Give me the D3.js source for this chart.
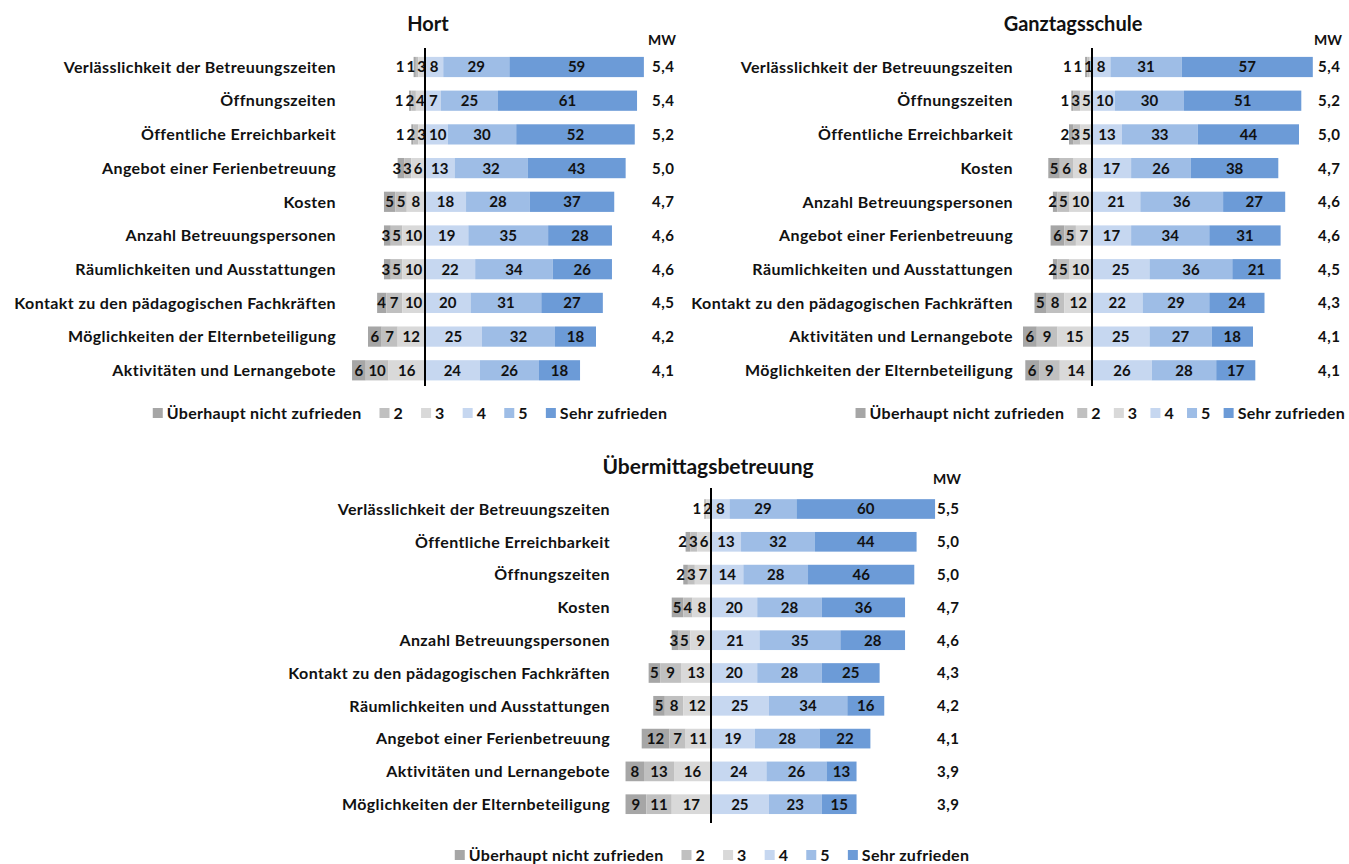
<!DOCTYPE html>
<html lang="de">
<head>
<meta charset="utf-8">
<title>Zufriedenheit Betreuung</title>
<script src="https://d3js.org/d3.v7.min.js"></script>
<style>
  body { margin: 0; background: #fff; }
  text { font-family: Lato, "Open Sans", sans-serif; font-weight: bold; fill: #111; }
</style>
</head>
<body>
<script>
// Antwortstufen (1 = überhaupt nicht zufrieden ... 6 = sehr zufrieden)
var stufen = ["Überhaupt nicht zufrieden", "2", "3", "4", "5", "Sehr zufrieden"];
var farben = ["#a6a6a6", "#c0c0c0", "#d9d9d9", "#c6d7f0", "#9ebde6", "#6c9bd7"];

// Hort
var hortKat = ["Verlässlichkeit der Betreuungszeiten", "Öffnungszeiten", "Öffentliche Erreichbarkeit",
  "Angebot einer Ferienbetreuung", "Kosten", "Anzahl Betreuungspersonen", "Räumlichkeiten und Ausstattungen",
  "Kontakt zu den pädagogischen Fachkräften", "Möglichkeiten der Elternbeteiligung", "Aktivitäten und Lernangebote"];
var hortWerte = [[1,1,3,8,29,59],[1,2,4,7,25,61],[1,2,3,10,30,52],[3,3,6,13,32,43],[5,5,8,18,28,37],
  [3,5,10,19,35,28],[3,5,10,22,34,26],[4,7,10,20,31,27],[6,7,12,25,32,18],[6,10,16,24,26,18]];
var hortMW = ["5,4","5,4","5,2","5,0","4,7","4,6","4,6","4,5","4,2","4,1"];

// Ganztagsschule
var gtsKat = ["Verlässlichkeit der Betreuungszeiten", "Öffnungszeiten", "Öffentliche Erreichbarkeit", "Kosten",
  "Anzahl Betreuungspersonen", "Angebot einer Ferienbetreuung", "Räumlichkeiten und Ausstattungen",
  "Kontakt zu den pädagogischen Fachkräften", "Aktivitäten und Lernangebote", "Möglichkeiten der Elternbeteiligung"];
var gtsWerte = [[1,1,1,8,31,57],[1,3,5,10,30,51],[2,3,5,13,33,44],[5,6,8,17,26,38],[2,5,10,21,36,27],
  [6,5,7,17,34,31],[2,5,10,25,36,21],[5,8,12,22,29,24],[6,9,15,25,27,18],[6,9,14,26,28,17]];
var gtsMW = ["5,4","5,2","5,0","4,7","4,6","4,6","4,5","4,3","4,1","4,1"];

// Übermittagsbetreuung
var uebKat = ["Verlässlichkeit der Betreuungszeiten", "Öffentliche Erreichbarkeit", "Öffnungszeiten", "Kosten",
  "Anzahl Betreuungspersonen", "Kontakt zu den pädagogischen Fachkräften", "Räumlichkeiten und Ausstattungen",
  "Angebot einer Ferienbetreuung", "Aktivitäten und Lernangebote", "Möglichkeiten der Elternbeteiligung"];
var uebWerte = [[0,1,2,8,29,60],[2,3,6,13,32,44],[2,3,7,14,28,46],[5,4,8,20,28,36],[3,5,9,21,35,28],
  [5,9,13,20,28,25],[5,8,12,25,34,16],[12,7,11,19,28,22],[8,13,16,24,26,13],[9,11,17,25,23,15]];
var uebMW = ["5,5","5,0","5,0","4,7","4,6","4,3","4,2","4,1","3,9","3,9"];

var svg = d3.select("body").append("svg")
  .attr("width", 1349)
  .attr("height", 864);

function zeichne(p) {
  var g = svg.append("g");
  var x = d3.scaleLinear().domain([0, 100]).range([p.achse, p.achse + 100 * p.k]);
  var y = d3.scaleBand().domain(p.kat)
    .range([p.y0 - p.step / 2, p.y0 + p.step * (p.kat.length - 0.5)])
    .paddingInner(0.4).paddingOuter(0.2);

  // Segmente: 1-3 links von der Achse, 4-6 rechts
  p.kat.forEach(function(k, i) {
    var w = p.werte[i];
    var segs = [];
    var pos = -(w[0] + w[1] + w[2]);
    w.forEach(function(v, j) {
      segs.push({ von: pos, bis: pos + v, v: v, j: j });
      pos += v;
    });
    var zeile = g.append("g");
    zeile.selectAll("rect").data(segs).enter().append("rect")
      .attr("x", function(d) { return x(d.von); })
      .attr("width", function(d) { return x(d.bis) - x(d.von); })
      .attr("y", y(k))
      .attr("height", y.bandwidth())
      .attr("fill", function(d) { return farben[d.j]; });
    var labels = zeile.selectAll("text.wert").data(segs.filter(function(d) { return d.v > 0; })).enter().append("text")
      .attr("class", "wert")
      .attr("x", function(d) { return (x(d.von) + x(d.bis)) / 2; })
      .attr("y", y(k) + y.bandwidth() / 2)
      .attr("dy", "0.36em")
      .attr("text-anchor", "middle")
      .style("font-size", "15px")
      .text(function(d) { return d.v; });
    // kleine Segmente: Beschriftungen auseinanderschieben
    var links = [], rechts = [];
    labels.each(function(d) {
      var o = { el: this, c: (x(d.von) + x(d.bis)) / 2, b: this.getComputedTextLength() };
      if (d.j < 3) links.push(o); else rechts.push(o);
    });
    var grenze = p.achse + 3;
    links.reverse().forEach(function(o) {
      if (o.c + o.b / 2 > grenze - 2) o.c = grenze - 2 - o.b / 2;
      grenze = o.c - o.b / 2;
      d3.select(o.el).attr("x", o.c);
    });
    grenze = p.achse + 2;
    rechts.forEach(function(o) {
      if (o.c - o.b / 2 < grenze + 2) o.c = grenze + 2 + o.b / 2;
      grenze = o.c + o.b / 2;
      d3.select(o.el).attr("x", o.c);
    });
    // Kategorie
    g.append("text")
      .attr("x", p.labelX)
      .attr("y", y(k) + y.bandwidth() / 2)
      .attr("dy", "0.36em")
      .attr("text-anchor", "end")
      .style("font-size", "16px")
      .style("letter-spacing", "0.4px")
      .text(k);
    // Mittelwert
    g.append("text")
      .attr("x", p.mwX)
      .attr("y", y(k) + y.bandwidth() / 2)
      .attr("dy", "0.36em")
      .style("font-size", "15px")
      .style("letter-spacing", "0.5px")
      .text(p.mw[i]);
  });

  // Achse
  g.append("line")
    .attr("x1", p.achse).attr("x2", p.achse)
    .attr("y1", p.axTop).attr("y2", p.axBot)
    .attr("stroke", "#000").attr("stroke-width", 2);

  g.append("text").attr("x", p.titelX).attr("y", p.titelY)
    .attr("text-anchor", "middle").style("font-size", p.titelSize + "px").text(p.titel);
  g.append("text").attr("x", p.mwX - 4).attr("y", p.mwKopfY)
    .style("font-size", "14px").text("MW");

  // Legende
  var leg = g.append("g");
  var cx = 0;
  stufen.forEach(function(s, j) {
    leg.append("rect").attr("x", cx).attr("y", -5).attr("width", 10).attr("height", 10).attr("fill", farben[j]);
    var t = leg.append("text").attr("x", cx + 14).attr("y", 0).attr("dy", "0.36em")
      .style("font-size", "16px").style("letter-spacing", "0.3px").text(s);
    cx += 14 + t.node().getComputedTextLength() + p.legGap;
  });
  cx -= p.legGap;
  var lx = Math.min(p.legX - cx / 2, 1345 - cx);
  leg.attr("transform", "translate(" + lx + "," + p.legY + ")");
}

zeichne({ kat: hortKat, werte: hortWerte, mw: hortMW, achse: 425, k: 2.28, y0: 67, step: 33.7,
  labelX: 336, mwX: 652, axTop: 48, axBot: 386, titel: "Hort", titelX: 428, titelY: 31, titelSize: 20,
  mwKopfY: 45, legX: 410, legY: 413, legGap: 18 });
zeichne({ kat: gtsKat, werte: gtsWerte, mw: gtsMW, achse: 1092, k: 2.30, y0: 67, step: 33.7,
  labelX: 1013, mwX: 1318, axTop: 48, axBot: 386, titel: "Ganztagsschule", titelX: 1073, titelY: 31, titelSize: 20,
  mwKopfY: 45, legX: 1101, legY: 413, legGap: 13 });
zeichne({ kat: uebKat, werte: uebWerte, mw: uebMW, achse: 711, k: 2.31, y0: 509, step: 32.8,
  labelX: 610, mwX: 937, axTop: 488, axBot: 823, titel: "Übermittagsbetreuung", titelX: 708, titelY: 474, titelSize: 21,
  mwKopfY: 484, legX: 712, legY: 855, legGap: 18 });
</script>
</body>
</html>
